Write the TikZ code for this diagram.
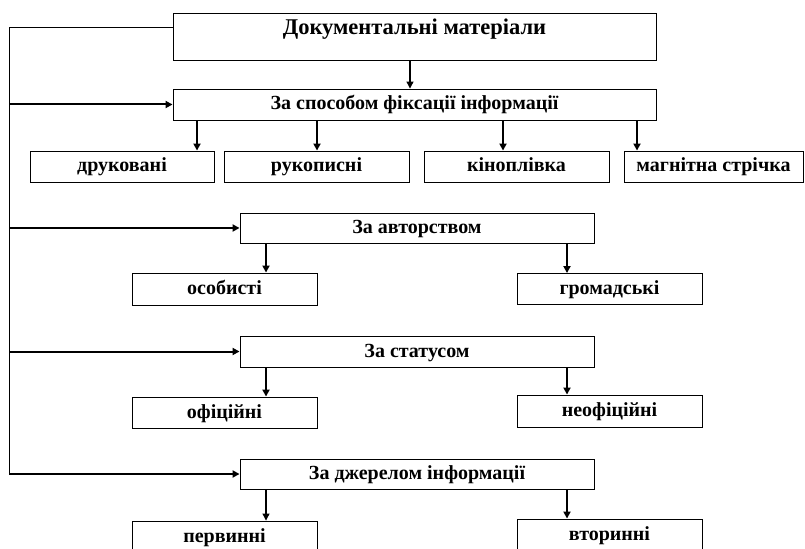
\documentclass[tikz,border=0pt]{standalone}
\usepackage{fontspec}
\setmainfont{Liberation Serif}
\usetikzlibrary{arrows.meta}
\tikzset{
  box/.style={draw, line width=0.9bp, rectangle, inner sep=0pt, text height=14bp, text depth=3bp, font=\bfseries\fontsize{20bp}{22bp}\selectfont},
  titlebox/.style={draw, line width=0.9bp, rectangle, inner xsep=0pt, inner ysep=3bp, text height=19bp, text depth=22bp, font=\bfseries\fontsize{22.5bp}{24bp}\selectfont},
  headbox/.style={box, minimum width=354bp, minimum height=30bp},
  leaf/.style={box, minimum width=185bp, minimum height=31bp},
  conn/.style={line width=1bp},
  harr/.style={line width=2bp, -{Triangle[length=7bp,width=7bp]}},
  varr/.style={line width=2bp, -{Triangle[length=7bp,width=7bp]}},
  tarr/.style={line width=1.1bp, -{Triangle[length=7bp,width=7bp]}}
}
\begin{document}
\begin{tikzpicture}[x=1bp,y=-1bp]
\useasboundingbox[fill=white] (0,0) rectangle (805,549);
% top
\node[titlebox, minimum width=483bp] (title) at (414.5,36.5) {Документальні матеріали};
\node[box, minimum width=483bp, minimum height=31bp] (fix) at (414.5,104.5) {За способом фіксації інформації};
\node[leaf, minimum width=184bp] (c1) at (122,166.5) {друковані};
\node[leaf] (c2) at (316.5,166.5) {рукописні};
\node[leaf] (c3) at (516.5,166.5) {кіноплівка};
\node[leaf, minimum width=179bp] (c4) at (713.5,166.5) {магнітна стрічка};
% author
\node[headbox] (author) at (417,228) {За авторством};
\node[leaf, minimum height=32bp] (osob) at (224.5,289) {особисті};
\node[leaf] (hrom) at (609.5,289) {громадські};
% status
\node[headbox, minimum height=31bp] (status) at (417,351.5) {За статусом};
\node[leaf] (ofic) at (224.5,412.5) {офіційні};
\node[leaf, minimum height=32bp] (neof) at (609.5,411) {неофіційні};
% source
\node[headbox] (source) at (417,474) {За джерелом інформації};
\node[leaf] (perv) at (224.5,536.5) {первинні};
\node[leaf] (vtor) at (609.5,534.5) {вторинні};
% helper coordinates
\coordinate (Lb) at (9,474);
\coordinate (xa) at (410,0);
\coordinate (x1) at (197,0);
\coordinate (x2) at (317,0);
\coordinate (x3) at (503,0);
\coordinate (x4) at (637,0);
\coordinate (xl) at (266,0);
\coordinate (xr) at (567,0);
% connectors
\draw[conn] ([yshift=8.5bp]title.west) -| (Lb);
\draw[harr] (Lb |- fix.west) -- (fix.west);
\draw[harr] (Lb |- author.west) -- (author.west);
\draw[harr] (Lb |- status.west) -- (status.west);
\draw[harr] (Lb) -- (source.west);
\draw[tarr] (title.south -| xa) -- (fix.north -| xa);
\draw[varr] (fix.south -| x1) -- (c1.north -| x1);
\draw[varr] (fix.south -| x2) -- (c2.north -| x2);
\draw[varr] (fix.south -| x3) -- (c3.north -| x3);
\draw[varr] (fix.south -| x4) -- (c4.north -| x4);
\draw[varr] (author.south -| xl) -- (osob.north -| xl);
\draw[varr] (author.south -| xr) -- (hrom.north -| xr);
\draw[varr] (status.south -| xl) -- (ofic.north -| xl);
\draw[varr] (status.south -| xr) -- (neof.north -| xr);
\draw[tarr] (source.south -| xl) -- (perv.north -| xl);
\draw[varr] (source.south -| xr) -- (vtor.north -| xr);
\end{tikzpicture}
\end{document}
